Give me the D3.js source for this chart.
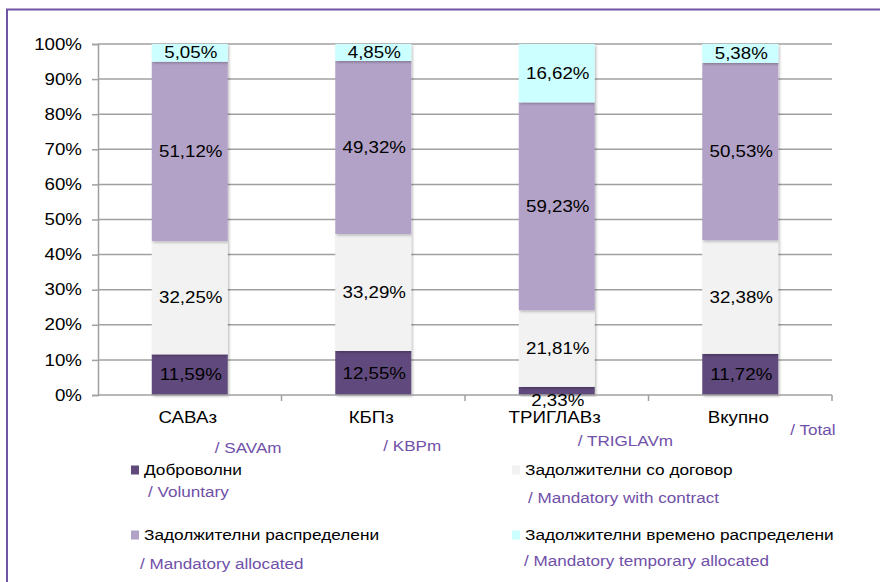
<!DOCTYPE html>
<html><head><meta charset="utf-8">
<script src="https://cdn.jsdelivr.net/npm/d3@7"></script>
<style>
html,body{margin:0;padding:0;background:#fff;}
svg{display:block;font-family:"Liberation Sans",Arial,sans-serif;}
</style></head>
<body>
<svg id="c" width="880" height="582"></svg>
<script>
// ---- data ----
const categories = ["САВАз", "КБПз", "ТРИГЛАВз", "Вкупно"];
const categoriesEn = ["/ SAVAm", "/ KBPm", "/ TRIGLAVm", "/ Total"];
const seriesNames = ["Доброволни", "Задолжителни со договор", "Задолжителни распределени", "Задолжителни времено распределени"];
const seriesNamesEn = ["/ Voluntary", "/ Mandatory with contract", "/ Mandatory allocated", "/ Mandatory temporary allocated"];
const voluntary = [11.59, 12.55, 2.33, 11.72];
const mandatoryContract = [32.25, 33.29, 21.81, 32.38];
const mandatoryAllocated = [51.12, 49.32, 59.23, 50.53];
const mandatoryTemporary = [5.05, 4.85, 16.62, 5.38];
const yTicks = [0, 10, 20, 30, 40, 50, 60, 70, 80, 90, 100];

// ---- layout / style ----
const colors = ["#604a7b", "#f2f2f2", "#b3a2c7", "#ccffff"];
const purpleText = "#7050a8";
const svg = d3.select("#c");

const x = d3.scaleBand().domain(categories).range([98, 832]).paddingInner(0.586).paddingOuter(0.293);
const y = d3.scaleLinear().domain([0, 100]).range([395, 44]);

function stretchedText(g, px, py, str, opts) {
  const sx = opts.sx || 1.17;
  return g.append("text")
    .attr("transform", `translate(${px},${py}) scale(${sx},1)`)
    .attr("font-size", opts.size || 16)
    .attr("fill", opts.fill || "#000")
    .attr("text-anchor", opts.anchor || "start")
    .attr("dy", "0.35em")
    .text(str);
}

// frame
svg.append("path").attr("d", "M7,582 V9.5 H880").attr("fill", "none").attr("stroke", "#6f55a3").attr("stroke-width", 2);

// shadow filter
const defs = svg.append("defs");
const f = defs.append("filter").attr("id", "sh").attr("x", "-20%").attr("y", "-20%").attr("width", "140%").attr("height", "140%");
f.append("feDropShadow").attr("dx", 1.5).attr("dy", 1.5).attr("stdDeviation", 1).attr("flood-color", "#000").attr("flood-opacity", 0.25);

// gridlines
svg.append("g").selectAll("line").data(yTicks.filter(d => d > 0)).join("line")
  .attr("x1", 98).attr("x2", 832).attr("y1", d => y(d)).attr("y2", d => y(d))
  .attr("stroke", "#a0a0a0").attr("stroke-width", 1.5);

// y axis
const yAxis = svg.append("g").attr("transform", "translate(98,0)")
  .call(d3.axisLeft(y).tickValues(yTicks).tickSize(6).tickFormat(""));
yAxis.select(".domain").attr("stroke", "#a0a0a0").attr("stroke-width", 1.5);
yAxis.selectAll(".tick line").attr("stroke", "#a0a0a0").attr("stroke-width", 1.5);
const yl = svg.append("g");
yTicks.forEach(v => stretchedText(yl, 82, y(v), v + "%", {anchor: "end", size: 16}));

// stacked data
const rows = categories.map((c, i) => ({cat: c, s0: voluntary[i], s1: mandatoryContract[i], s2: mandatoryAllocated[i], s3: mandatoryTemporary[i]}));
const stack = d3.stack().keys(["s0", "s1", "s2", "s3"])(rows);

const barsG = svg.append("g");
stack.forEach((layer, li) => {
  barsG.append("g").selectAll("rect").data(layer).join("rect")
    .attr("x", d => x(d.data.cat))
    .attr("width", x.bandwidth())
    .attr("y", d => y(d[1]))
    .attr("height", d => y(d[0]) - y(d[1]))
    .attr("fill", colors[li])
    .attr("filter", "url(#sh)");
});

// x axis (bottom line + band separator ticks)
svg.append("line").attr("x1", 98).attr("x2", 832).attr("y1", 395).attr("y2", 395)
  .attr("stroke", "#a0a0a0").attr("stroke-width", 1.5);
const sepX = categories.slice(1).map(c => x(c) - x.step() * x.paddingInner() / 2).concat([832]);
svg.append("g").selectAll("line").data(sepX).join("line")
  .attr("x1", d => d).attr("x2", d => d).attr("y1", 395).attr("y2", 401)
  .attr("stroke", "#a0a0a0").attr("stroke-width", 1.5);

// value labels
const labG = svg.append("g");
stack.forEach(layer => {
  layer.forEach(d => {
    const h = y(d[0]) - y(d[1]);
    const cy = (y(d[0]) + y(d[1])) / 2 + (h < 15 ? 9 : 0);
    const v = d[1] - d[0];
    stretchedText(labG, x(d.data.cat) + x.bandwidth() / 2 + 1, cy, v.toFixed(2).replace(".", ",") + "%", {anchor: "middle", size: 16});
  });
});

// category labels
const catG = svg.append("g");
categories.forEach(c => stretchedText(catG, x(c) + x.bandwidth() / 2 - 2, 417, c, {anchor: "middle", size: 16}));
const enOff = [[25, 448], [10, 446], [21, 441], [50, 430]];
categoriesEn.forEach((c, i) => stretchedText(catG, x(categories[i]) + x.bandwidth() / 2 + enOff[i][0], enOff[i][1], c, {size: 15, fill: purpleText, sx: 1.14}));

// legend
const legPos = [[131, 470, 148, 492], [512, 470, 528, 498], [131, 535, 140, 564], [512, 535, 524, 561]];
const legG = svg.append("g");
seriesNames.forEach((n, i) => {
  const p = legPos[i];
  legG.append("rect").attr("x", p[0]).attr("y", p[1] - 4.5).attr("width", 8).attr("height", 9).attr("fill", colors[i]);
  stretchedText(legG, p[0] + 13, p[1], n, {size: 15, sx: 1.15});
  stretchedText(legG, p[2], p[3], seriesNamesEn[i], {size: 15, fill: purpleText, sx: 1.14});
});
</script>
</body></html>
